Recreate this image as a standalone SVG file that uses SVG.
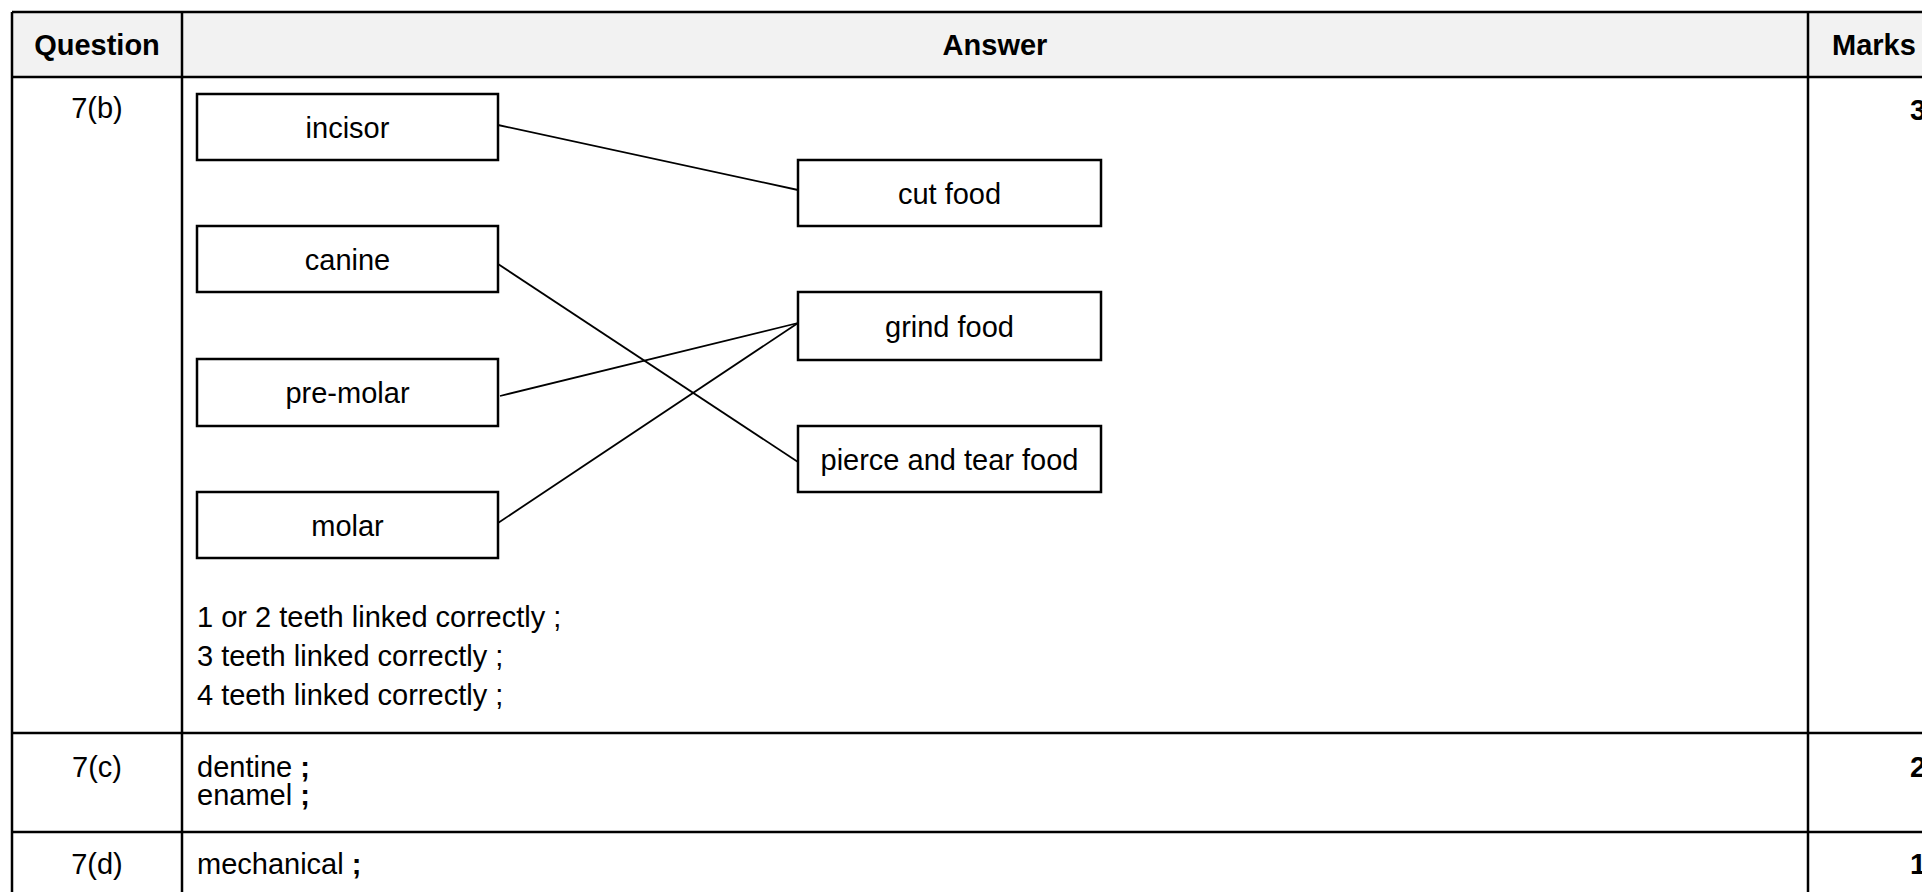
<svg xmlns="http://www.w3.org/2000/svg" width="1922" height="892" viewBox="0 0 1922 892">
<style>
text{font-family:"Liberation Sans",Arial,sans-serif;font-size:29px;fill:#000}
.b{font-weight:bold}
.c{text-anchor:middle}
.tl{stroke:#000;stroke-width:2.5;fill:none}
.box{fill:#fff;stroke:#000;stroke-width:2.5}
.cn{stroke:#000;stroke-width:1.8;fill:none}
</style>
<rect x="0" y="0" width="1922" height="892" fill="#fff"/>
<g id="table">
<rect x="12" y="12" width="1990" height="65" fill="#f2f2f2"/>
<line class="tl" x1="12" y1="12" x2="1922" y2="12"/>
<line class="tl" x1="12" y1="77" x2="1922" y2="77"/>
<line class="tl" x1="12" y1="733" x2="1922" y2="733"/>
<line class="tl" x1="12" y1="832" x2="1922" y2="832"/>
<line class="tl" x1="12" y1="12" x2="12" y2="892"/>
<line class="tl" x1="182" y1="12" x2="182" y2="892"/>
<line class="tl" x1="1808" y1="12" x2="1808" y2="892"/>
<text class="b c" x="97" y="55">Question</text>
<text class="b c" x="995" y="55">Answer</text>
<text class="b" x="1832" y="55">Marks</text>
<text class="c" x="97" y="118">7(b)</text>
<text class="c" x="97" y="777">7(c)</text>
<text class="c" x="97" y="874">7(d)</text>
<text class="b" x="1910" y="120">3</text>
<text class="b" x="1910" y="777">2</text>
<text class="b" x="1910" y="874">1</text>
<text x="197" y="627">1 or 2 teeth linked correctly ;</text>
<text x="197" y="666">3 teeth linked correctly ;</text>
<text x="197" y="705">4 teeth linked correctly ;</text>
<text x="197" y="777">dentine <tspan class="b">;</tspan></text>
<text x="197" y="805">enamel <tspan class="b">;</tspan></text>
<text x="197" y="874">mechanical <tspan class="b">;</tspan></text>
</g>
<g id="connectors">
<line class="cn" x1="498" y1="125" x2="798" y2="190"/>
<line class="cn" x1="495" y1="262" x2="798" y2="462"/>
<line class="cn" x1="500" y1="396" x2="798" y2="323"/>
<line class="cn" x1="498" y1="523" x2="798" y2="323"/>
</g>
<g id="incisor"><rect class="box" x="197" y="94" width="301" height="66"/><text class="c" x="347.5" y="137.5">incisor</text></g>
<g id="canine"><rect class="box" x="197" y="226" width="301" height="66"/><text class="c" x="347.5" y="269.5">canine</text></g>
<g id="premolar"><rect class="box" x="197" y="359" width="301" height="67"/><text class="c" x="347.5" y="403">pre-molar</text></g>
<g id="molar"><rect class="box" x="197" y="492" width="301" height="66"/><text class="c" x="347.5" y="535.5">molar</text></g>
<g id="cutfood"><rect class="box" x="798" y="160" width="303" height="66"/><text class="c" x="949.5" y="203.5">cut food</text></g>
<g id="grindfood"><rect class="box" x="798" y="292" width="303" height="68"/><text class="c" x="949.5" y="336.5">grind food</text></g>
<g id="piercefood"><rect class="box" x="798" y="426" width="303" height="66"/><text class="c" x="949.5" y="469.5">pierce and tear food</text></g>
</svg>
